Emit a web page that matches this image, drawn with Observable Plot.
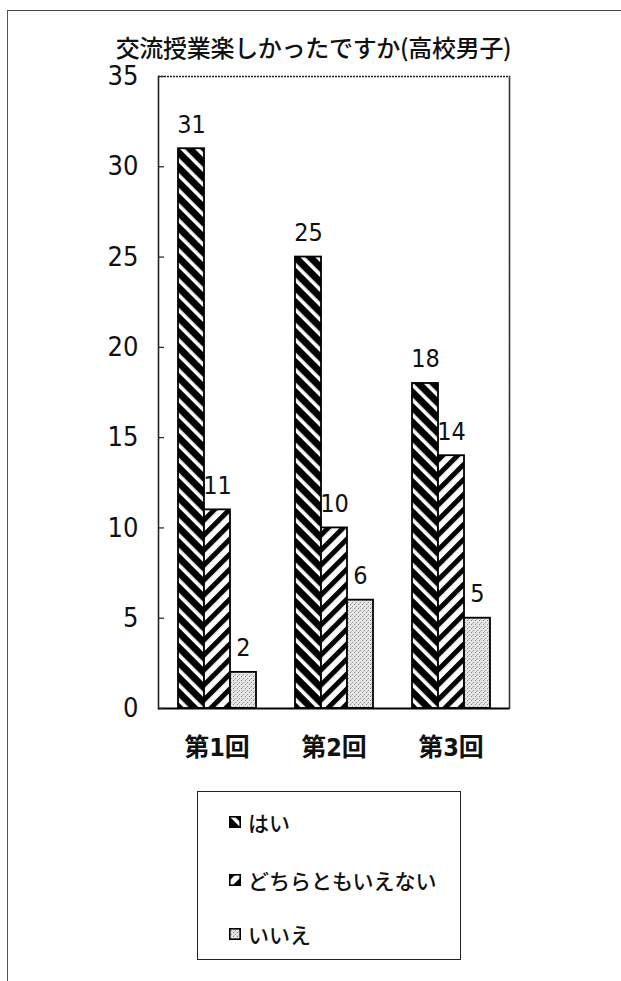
<!DOCTYPE html>
<html><head><meta charset="utf-8">
<script src="https://cdn.jsdelivr.net/npm/d3@7"></script>
<script src="https://cdn.jsdelivr.net/npm/@observablehq/plot@0.6"></script>
<style>
html,body{margin:0;padding:0;background:#fff;}
body{width:621px;height:981px;position:relative;overflow:hidden;font-family:"Noto Sans CJK JP",sans-serif;color:#111;}
#border{position:absolute;left:7px;top:10px;width:620px;height:975px;border-top:1.5px solid #444;border-left:1.5px solid #555;}
#title{position:absolute;left:0;width:621px;top:30px;text-align:center;padding-left:6px;box-sizing:border-box;font-size:24px;font-weight:500;line-height:34px;white-space:nowrap;letter-spacing:-0.3px;}
#chart{position:absolute;left:0;top:60px;}
#legend{position:absolute;left:197px;top:791px;width:264px;height:169px;border:1.2px solid #222;box-sizing:border-box;}
.item{position:absolute;left:31px;display:flex;align-items:center;font-size:21px;font-weight:500;white-space:nowrap;}
.item svg{margin-right:7px;}
</style></head>
<body>
<div id="border"></div>
<div id="title"></div>
<div id="chart"></div>
<div id="legend"></div>
<script>
const title = "交流授業楽しかったですか(高校男子)";
const rounds = ["第1回", "第2回", "第3回"];
const series = ["はい", "どちらともいえない", "いいえ"];
const hai = [31, 25, 18];
const dochira = [11, 10, 14];
const iie = [2, 6, 5];
const yTicks = [0, 5, 10, 15, 20, 25, 30, 35];
const patternIds = ["pat-hai", "pat-dochira", "pat-iie"];

const values = [hai, dochira, iie];
const data = rounds.flatMap((r, i) => series.map((s, j) => ({round: r, series: s, value: values[j][i]})));

const numFont = '"Liberation Sans Narrow","DejaVu Sans Condensed","Arial Narrow","Noto Sans CJK JP",sans-serif';

const chart = Plot.plot({
  width: 621,
  height: 718,
  marginLeft: 157,
  marginRight: 111,
  marginTop: 16,
  marginBottom: 70,
  style: {background: "transparent", color: "#111"},
  fx: {domain: rounds, padding: 0, label: null},
  x: {domain: series, paddingInner: 0, paddingOuter: 0.68, axis: null},
  y: {domain: [0, 35], label: null},
  color: {domain: series, range: patternIds.map(id => `url(#${id})`)},
  marks: [
    Plot.ruleY([35], {stroke: "#222", strokeWidth: 1.6, strokeDasharray: "2,1"}),
    Plot.frame({anchor: "left", facetAnchor: "left", stroke: "#222", strokeWidth: 1.6}),
    Plot.frame({anchor: "right", facetAnchor: "right", stroke: "#333", strokeWidth: 1.6, strokeDasharray: "2,1"}),
    Plot.barY(data, {fx: "round", x: "series", y: "value", fill: "series", stroke: "#000", strokeWidth: 1.8}),
    Plot.ruleY([0], {stroke: "#000", strokeWidth: 1.8}),
    Plot.text(data, {fx: "round", x: "series", y: "value", text: d => String(d.value), dy: -24, fontSize: 25, fontFamily: numFont, fill: "#111"}),
    Plot.axisY({ticks: yTicks, tickSize: 0, tickPadding: 20, fontSize: 27, fontFamily: numFont, label: null}),
    Plot.axisY({ticks: yTicks, tickSize: -6, tickFormat: () => "", label: null, stroke: "#222", strokeWidth: 1.2}),
    Plot.axisFx({anchor: "bottom", tickSize: 0, tickPadding: 30, fontSize: 25, fontWeight: "bold", fontFamily: numFont, label: null})
  ]
});

// pattern definitions for the bar fills
const defs = `
<defs>
 <pattern id="pat-hai" patternUnits="userSpaceOnUse" width="10.6" height="10.6" patternTransform="rotate(-45)">
  <rect width="10.6" height="10.6" fill="#000"/>
  <rect x="0" width="3.6" height="10.6" fill="#fff"/>
 </pattern>
 <pattern id="pat-dochira" patternUnits="userSpaceOnUse" width="10.6" height="10.6" patternTransform="rotate(45)">
  <rect width="10.6" height="10.6" fill="#fff"/>
  <rect x="0" width="5" height="10.6" fill="#000"/>
 </pattern>
 <pattern id="pat-iie" patternUnits="userSpaceOnUse" width="4" height="4">
  <rect width="4" height="4" fill="#e4e4e4"/>
  <rect x="0" y="0" width="1" height="1" fill="#888"/>
  <rect x="2" y="2" width="1" height="1" fill="#999"/>
  <rect x="1" y="3" width="1" height="1" fill="#bbb"/>
 </pattern>
</defs>`;
chart.insertAdjacentHTML("afterbegin", defs);
document.getElementById("chart").appendChild(chart);

// legend
const legend = document.getElementById("legend");
const rowsY = [30, 88, 142];
series.forEach((s, i) => {
  const div = document.createElement("div");
  div.className = "item";
  div.style.top = (rowsY[i] - 15) + "px";
  div.style.height = "30px";
  div.innerHTML = `<svg width="12" height="12"><rect x="0.8" y="0.8" width="10.4" height="10.4" fill="url(#${patternIds[i]})" stroke="#000" stroke-width="1.6"/></svg><span>${s}</span>`;
  legend.appendChild(div);
});
document.getElementById("title").textContent = title;
</script>
</body></html>
